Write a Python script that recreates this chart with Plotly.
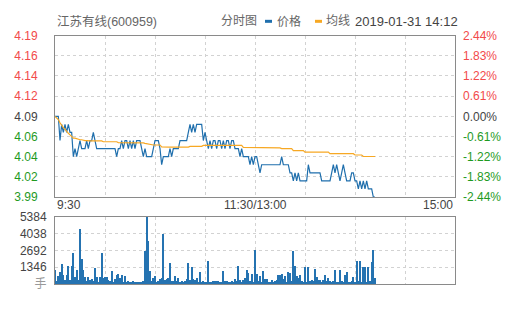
import plotly.graph_objects as go

# ---------------- data ----------------
stock_name = "江苏有线(600959)"
chart_kind = "分时图"
legend_price = "价格"
legend_avg = "均线"
timestamp = "2019-01-31 14:12"
prev_close = 4.09

price = [
    4.09, 4.09, 4.09, 4.06, 4.08, 4.07, 4.08, 4.07, 4.08, 4.07,
    4.07, 4.04, 4.05, 4.04, 4.05, 4.06, 4.05, 4.05, 4.05, 4.06,
    4.05, 4.06, 4.06, 4.07, 4.06, 4.05, 4.05, 4.05, 4.05, 4.05,
    4.05, 4.05, 4.05, 4.05, 4.05, 4.05, 4.05, 4.04, 4.05, 4.05,
    4.06, 4.05, 4.06, 4.06, 4.05, 4.06, 4.05, 4.06, 4.05, 4.06,
    4.06, 4.06, 4.05, 4.04, 4.05, 4.04, 4.04, 4.04, 4.04, 4.05,
    4.06, 4.06, 4.06, 4.05, 4.03, 4.04, 4.04, 4.04, 4.04, 4.05,
    4.04, 4.05, 4.05, 4.05, 4.05, 4.06, 4.06, 4.06, 4.06, 4.06,
    4.07, 4.08, 4.07, 4.08, 4.07, 4.08, 4.08, 4.08, 4.08, 4.06,
    4.07, 4.06, 4.05, 4.06, 4.05, 4.06, 4.06, 4.05, 4.06, 4.06,
    4.05, 4.06, 4.05, 4.06, 4.06, 4.05, 4.06, 4.06, 4.05, 4.05,
    4.05, 4.04, 4.05, 4.04, 4.04, 4.04, 4.04, 4.03, 4.04, 4.03,
    4.04, 4.04, 4.03, 4.02, 4.03, 4.03, 4.03, 4.03, 4.03, 4.03,
    4.03, 4.03, 4.03, 4.03, 4.03, 4.03, 4.04, 4.03, 4.03, 4.03,
    4.03, 4.02, 4.02, 4.01, 4.02, 4.01, 4.02, 4.01, 4.01, 4.01,
    4.01, 4.01, 4.03, 4.02, 4.02, 4.02, 4.02, 4.02, 4.02, 4.02,
    4.01, 4.01, 4.01, 4.01, 4.01, 4.01, 4.02, 4.03, 4.02, 4.03,
    4.02, 4.01, 4.02, 4.03, 4.02, 4.01, 4.01, 4.01, 4.02, 4.02,
    4.01, 4.01, 4.00, 4.01, 4.00, 4.01, 4.00, 4.01, 4.00, 4.00,
    4.00, 3.99, 3.99,
]

avg_price = [
    4.090, 4.088, 4.086, 4.082, 4.078, 4.076, 4.074, 4.071, 4.069, 4.067,
    4.065, 4.063, 4.063, 4.062, 4.062, 4.061, 4.061, 4.060, 4.060, 4.060,
    4.0595, 4.0595, 4.0595, 4.0595, 4.0595, 4.0595, 4.0595, 4.0595, 4.0595, 4.0585,
    4.0585, 4.0585, 4.0585, 4.0585, 4.0585, 4.0585, 4.0585, 4.0585, 4.0575, 4.0575,
    4.0575, 4.0575, 4.0575, 4.0575, 4.0575, 4.0575, 4.0575, 4.0575, 4.0575, 4.0575,
    4.0575, 4.0575, 4.0575, 4.0570, 4.0565, 4.0560, 4.0555, 4.0550, 4.0548, 4.0545,
    4.0545, 4.0545, 4.0545, 4.0545, 4.0520, 4.0518, 4.0518, 4.0518, 4.0518, 4.0518,
    4.0518, 4.0518, 4.0518, 4.0518, 4.0518, 4.0518, 4.0518, 4.0518, 4.0518, 4.0518,
    4.0518, 4.0528, 4.0528, 4.0528, 4.0528, 4.0528, 4.0528, 4.0528, 4.0528, 4.0540,
    4.0540, 4.0540, 4.0540, 4.0540, 4.0540, 4.0540, 4.0540, 4.0540, 4.0540, 4.0540,
    4.0540, 4.0540, 4.0540, 4.0540, 4.0540, 4.0540, 4.0540, 4.0540, 4.0540, 4.0540,
    4.0540, 4.0540, 4.0540, 4.0516, 4.0516, 4.0516, 4.0516, 4.0516, 4.0516, 4.0516,
    4.0516, 4.0516, 4.0516, 4.0516, 4.0516, 4.0516, 4.0516, 4.0516, 4.0516, 4.0508,
    4.0508, 4.0508, 4.0508, 4.0508, 4.0508, 4.0508, 4.0500, 4.0500, 4.0500, 4.0500,
    4.0500, 4.0500, 4.0500, 4.0476, 4.0476, 4.0476, 4.0476, 4.0476, 4.0476, 4.0476,
    4.0457, 4.0457, 4.0457, 4.0457, 4.0457, 4.0457, 4.0457, 4.0457, 4.0457, 4.0457,
    4.0457, 4.0457, 4.0457, 4.0457, 4.0457, 4.0437, 4.0437, 4.0437, 4.0437, 4.0437,
    4.0437, 4.0437, 4.0437, 4.0437, 4.0437, 4.0437, 4.0437, 4.0437, 4.0437, 4.0437,
    4.0421, 4.0421, 4.0421, 4.0421, 4.0421, 4.0402, 4.0402, 4.0402, 4.0402, 4.0402,
    4.0402, 4.0402, 4.0402,
]

volume = [
    1135, 258, 620, 930, 1625, 700, 300, 700, 1470, 310,
    1470, 2480, 570, 1135, 300, 4440, 1990, 1085, 570, 260,
    570, 310, 360, 230, 1240, 515, 180, 570, 2480, 440,
    570, 570, 310, 200, 1000, 180, 390, 700, 825, 440,
    700, 180, 620, 155, 230, 130, 155, 260, 180, 100,
    155, 100, 180, 260, 2680, 5384, 3480, 1000, 260, 440,
    620, 155, 230, 360, 440, 4050, 310, 360, 440, 1650,
    260, 230, 620, 260, 440, 180, 260, 180, 260, 360,
    1650, 310, 1390, 360, 310, 440, 180, 955, 180, 230,
    180, 155, 1860, 180, 155, 230, 230, 230, 230, 155,
    180, 1000, 260, 230, 155, 180, 230, 155, 410, 260,
    1470, 310, 155, 310, 440, 1085, 880, 230, 825, 155,
    2760, 775, 260, 670, 155, 1000, 360, 410, 155, 155,
    310, 100, 230, 310, 700, 750, 775, 410, 620, 155,
    930, 880, 260, 2630, 1470, 620, 490, 700, 260, 155,
    1390, 180, 1390, 260, 310, 230, 1210, 570, 310, 310,
    155, 310, 700, 230, 440, 260, 155, 260, 1085, 180,
    155, 1135, 260, 155, 700, 955, 155, 155, 260, 570,
    180, 1860, 260, 1860, 155, 1390, 1340, 155, 1390, 260,
    1730, 2760, 440,
]

minutes = list(range(len(price)))

price_tick_labels = ["3.99", "4.02", "4.04", "4.06", "4.09", "4.12", "4.14", "4.16", "4.19"]
pct_tick_labels = ["-2.44%", "-1.83%", "-1.22%", "-0.61%", "0.00%", "0.61%", "1.22%", "1.83%", "2.44%"]
vol_tick_labels = ["手", "1346", "2692", "4038", "5384"]
time_tick_labels = ["9:30", "11:30/13:00", "15:00"]

# ---------------- style ----------------
W, H = 505, 310
FONT = "Liberation Sans, Arial, Noto Sans CJK SC, sans-serif"
RED = "#f24a4a"
GREEN = "#1f9a1f"
DARK = "#444444"
TITLE_GRAY = "#666666"
BLUE = "#1f6fad"
BAR_BLUE = "#2573b1"
ORANGE = "#f7a823"
FRAME = "#8a8a8a"
GRID = "#d2d2d2"

left_px, right_px = 55, 455
price_top, price_bot = 30, 199
vol_top, vol_bot = 220, 290

xdom = [left_px / W, right_px / W]
ydom_price = [1 - price_bot / H, 1 - price_top / H]
ydom_vol = [1 - vol_bot / H, 1 - vol_top / H]

n = len(price_tick_labels)
pmin, pmax = 3.99, 4.19
price_tickvals = [pmin + (pmax - pmin) * i / (n - 1) for i in range(n)]
pct_vals = [float(s.rstrip("%")) for s in pct_tick_labels]


def color_for(i, mid):
    if i < mid:
        return GREEN
    if i > mid:
        return RED
    return DARK


mid = n // 2
price_ticktext = [f'<span style="color:{color_for(i, mid)}">{t}</span>'
                  for i, t in enumerate(price_tick_labels)]
pct_ticktext = [f'<span style="color:{color_for(i, mid)}">{t}</span>'
                for i, t in enumerate(pct_tick_labels)]
vol_tickvals = [0, 1346, 2692, 4038, 5384]
vol_ticktext = ['<span style="color:#999999">手</span>'] + vol_tick_labels[1:]

fig = go.Figure()

fig.add_trace(go.Scatter(
    x=minutes, y=price, mode="lines", line=dict(color=BLUE, width=1.2),
    xaxis="x", yaxis="y", hoverinfo="skip", showlegend=False))
fig.add_trace(go.Scatter(
    x=minutes, y=avg_price, mode="lines", line=dict(color=ORANGE, width=1.2),
    xaxis="x", yaxis="y", hoverinfo="skip", showlegend=False))
# invisible helper to keep the right-hand percentage axis alive
fig.add_trace(go.Scatter(
    x=[0], y=[0], mode="markers", marker=dict(opacity=0),
    xaxis="x", yaxis="y2", hoverinfo="skip", showlegend=False))
fig.add_trace(go.Bar(
    x=minutes, y=volume, marker=dict(color=BAR_BLUE, line=dict(width=0)),
    width=0.6, xaxis="x2", yaxis="y3", hoverinfo="skip", showlegend=False))

grid_common = dict(showgrid=True, gridcolor=GRID, griddash="3px,3px", gridwidth=1,
                   zeroline=False, showline=True, linecolor=FRAME, linewidth=1,
                   mirror=True, ticks="")

xticks = [0, 30, 60, 90, 120, 150, 180, 210, 240]

fig.update_layout(
    width=W, height=H, autosize=False,
    margin=dict(l=0, r=0, t=0, b=0),
    paper_bgcolor="white", plot_bgcolor="white",
    font=dict(family=FONT, size=12, color=DARK),
    showlegend=False, bargap=0,
    xaxis=dict(domain=xdom, anchor="y", range=[0, 240], tickvals=xticks,
               showticklabels=False, **grid_common),
    yaxis=dict(domain=ydom_price, anchor="x", range=[pmin, pmax],
               tickvals=price_tickvals, ticktext=price_ticktext,
               ticklabelstandoff=14, tickfont=dict(size=12, family=FONT),
               **grid_common),
    yaxis2=dict(overlaying="y", anchor="x", side="right", range=[pct_vals[0], pct_vals[-1]],
                tickvals=pct_vals, ticktext=pct_ticktext, showgrid=False,
                zeroline=False, showline=False, ticks="",
                ticklabelstandoff=7, tickfont=dict(size=12, family=FONT)),
    xaxis2=dict(domain=xdom, anchor="y3", range=[0, 240], tickvals=xticks,
                showticklabels=False, **grid_common),
    yaxis3=dict(domain=ydom_vol, anchor="x2", range=[0, 5384],
                tickvals=vol_tickvals, ticktext=vol_ticktext,
                ticklabelstandoff=5, tickfont=dict(size=12, family=FONT, color=DARK),
                **grid_common),
)

# time axis labels
label_y = 1 - 207 / H
anchors = ["left", "center", "right"]
for xv, txt, anc in zip([0, 120, 240], time_tick_labels, anchors):
    fig.add_annotation(x=xv, y=label_y, xref="x", yref="paper", text=txt,
                       showarrow=False, xanchor=anc, yanchor="middle",
                       font=dict(size=12, color=DARK, family=FONT))

# header row
head_y = 1 - 15 / H
fig.add_annotation(x=55 / W, y=head_y, xref="paper", yref="paper", text=stock_name,
                   showarrow=False, xanchor="left", yanchor="middle",
                   font=dict(size=12.5, color=TITLE_GRAY, family=FONT))
fig.add_annotation(x=219 / W, y=head_y, xref="paper", yref="paper", text=chart_kind,
                   showarrow=False, xanchor="left", yanchor="middle",
                   font=dict(size=12, color=TITLE_GRAY, family=FONT))
fig.add_shape(type="line", xref="paper", yref="paper",
              x0=265 / W, x1=272 / W, y0=head_y, y1=head_y,
              line=dict(color=BLUE, width=3))
fig.add_annotation(x=275 / W, y=head_y, xref="paper", yref="paper", text=legend_price,
                   showarrow=False, xanchor="left", yanchor="middle",
                   font=dict(size=12, color=TITLE_GRAY, family=FONT))
fig.add_shape(type="line", xref="paper", yref="paper",
              x0=315 / W, x1=322 / W, y0=head_y, y1=head_y,
              line=dict(color=ORANGE, width=3))
fig.add_annotation(x=324 / W, y=head_y, xref="paper", yref="paper", text=legend_avg,
                   showarrow=False, xanchor="left", yanchor="middle",
                   font=dict(size=12, color=TITLE_GRAY, family=FONT))
fig.add_annotation(x=353 / W, y=head_y, xref="paper", yref="paper", text=timestamp,
                   showarrow=False, xanchor="left", yanchor="middle",
                   font=dict(size=13, color=DARK, family=FONT))

fig.write_html("out.html")
